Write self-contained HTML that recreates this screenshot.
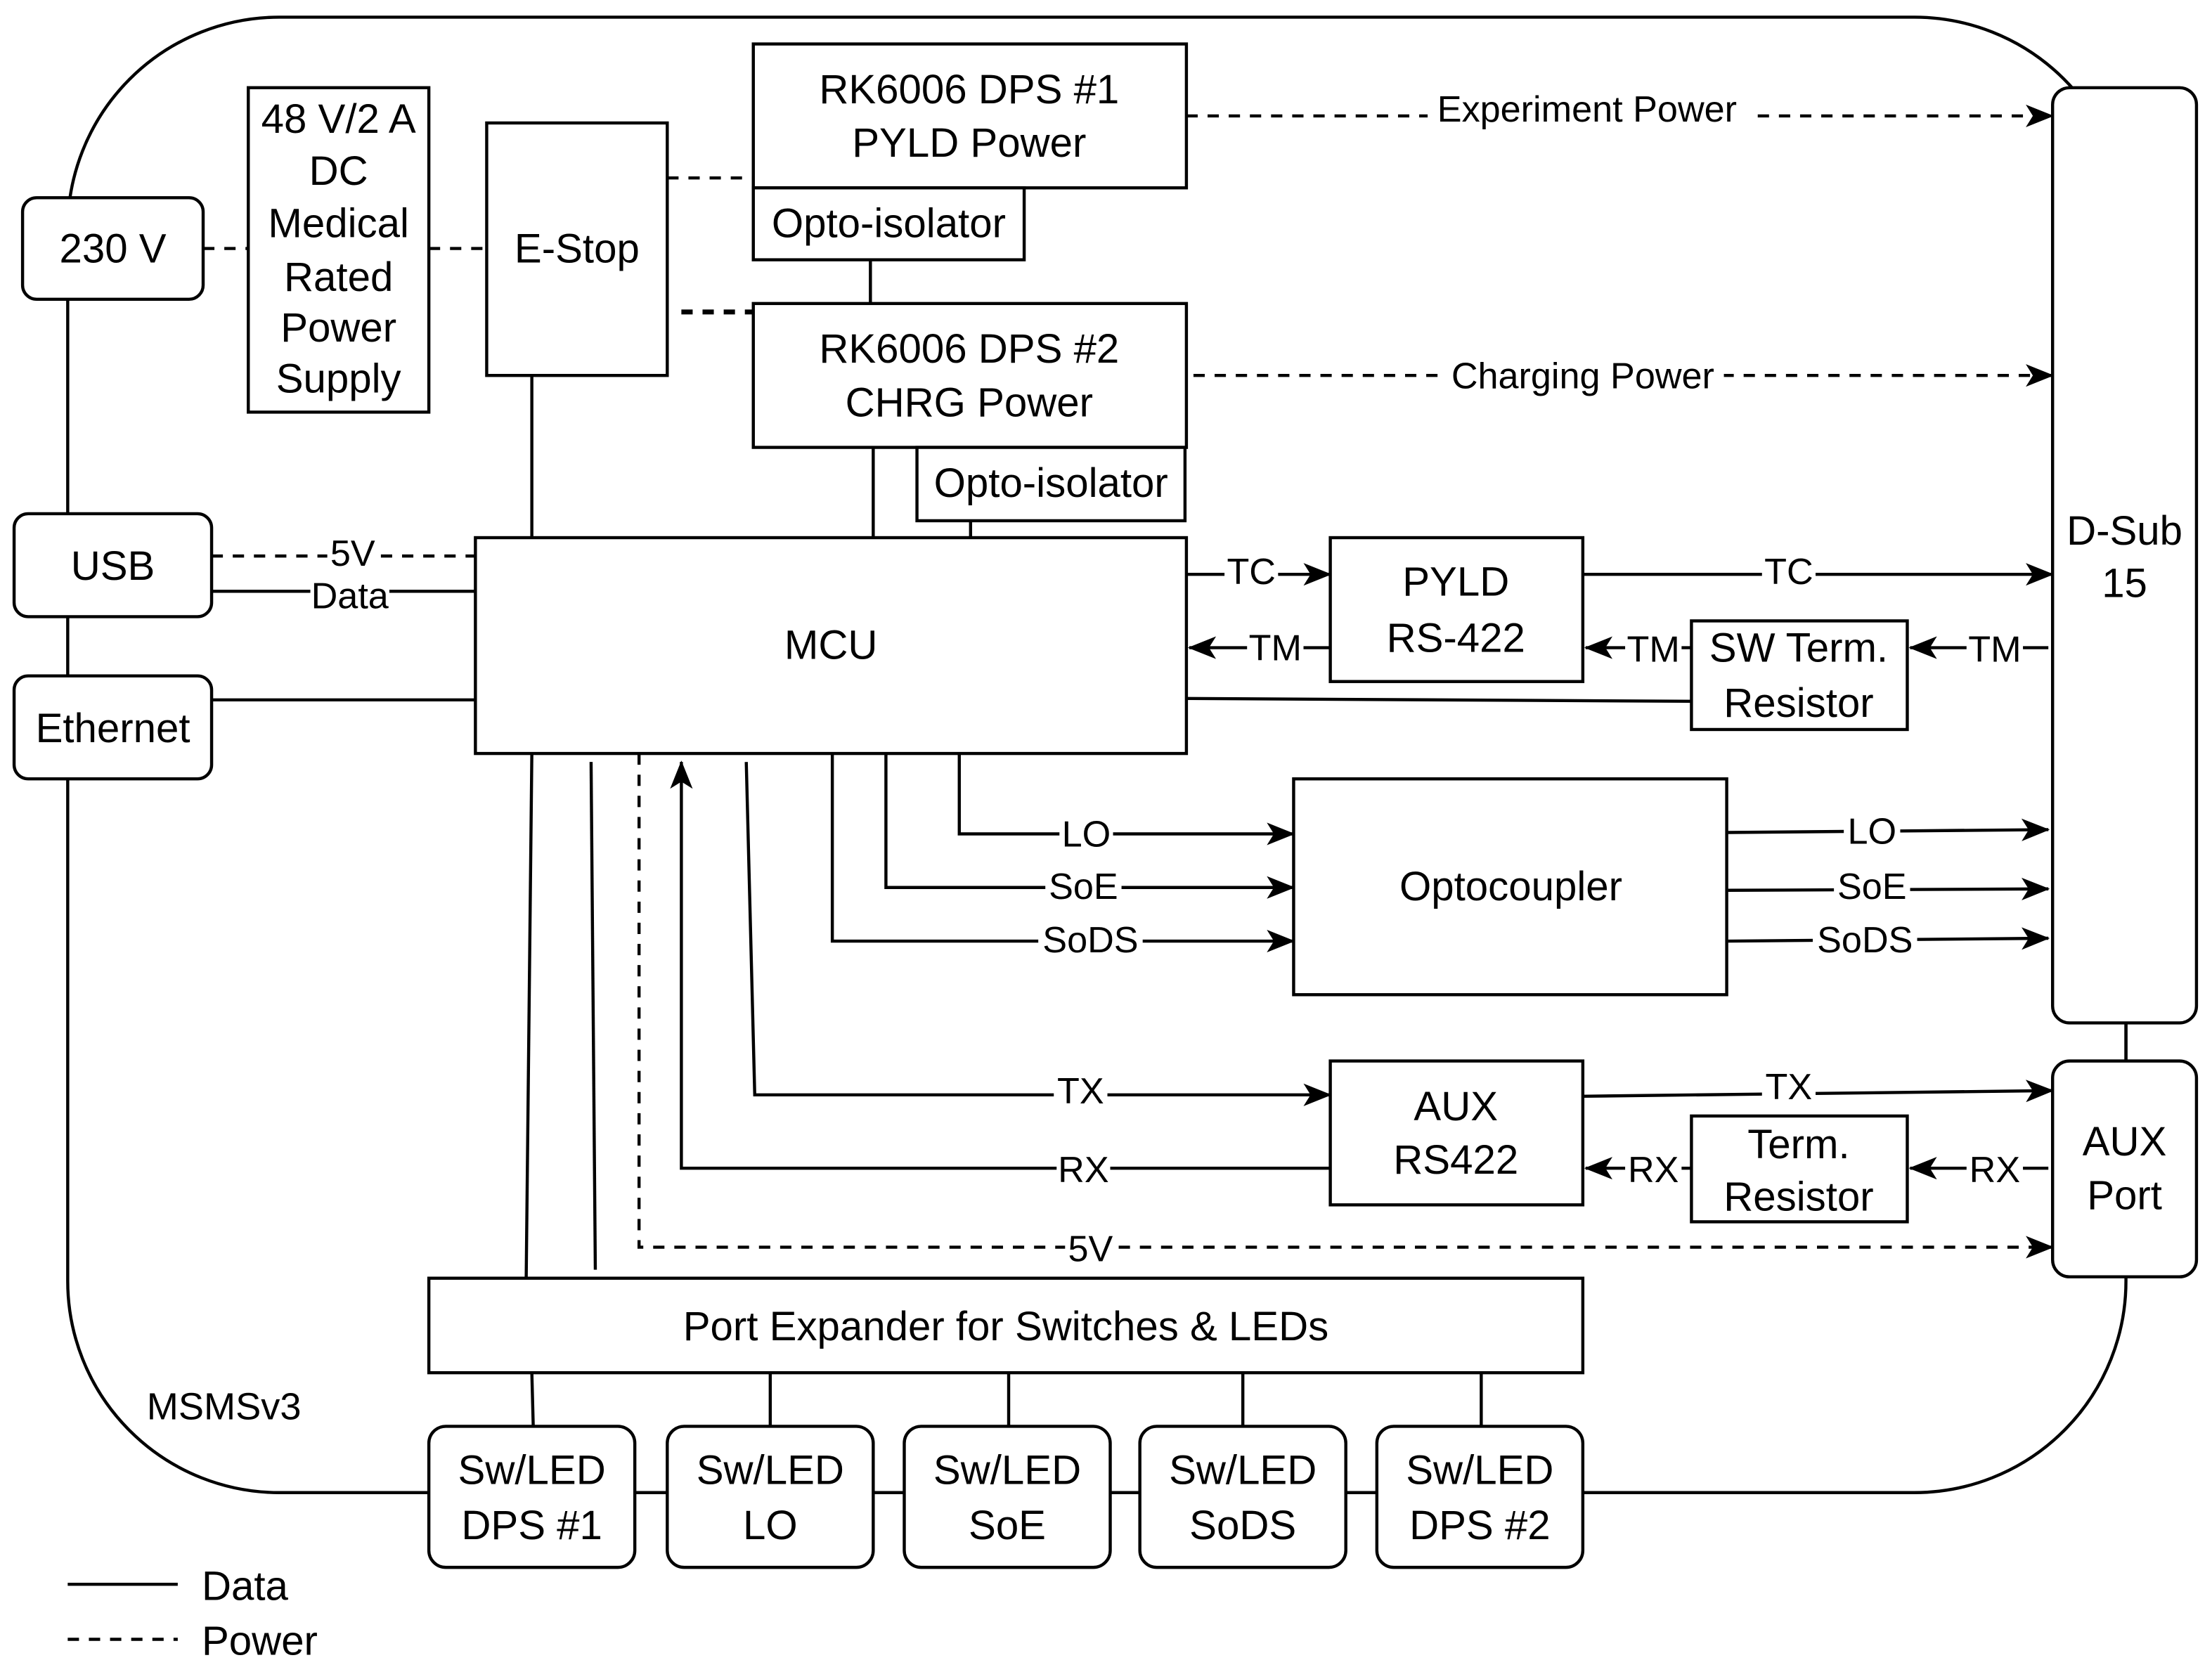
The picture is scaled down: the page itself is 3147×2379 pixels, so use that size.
<!DOCTYPE html>
<html><head><meta charset="utf-8"><style>
html,body{margin:0;padding:0;background:#fff;}
svg{display:block;}
text{font-family:"Liberation Sans",Arial,sans-serif;fill:#000;}
.b{font-size:29px;text-anchor:middle;}
.l{font-size:26px;text-anchor:middle;}
</style></head><body>
<svg width="3147" height="2379" viewBox="0 0 1568 1185" xmlns="http://www.w3.org/2000/svg">
<defs>
<marker id="a" viewBox="0 0 20 16" refX="19" refY="8" markerWidth="20" markerHeight="16" markerUnits="userSpaceOnUse" orient="auto">
<path d="M0,0 L20,8 L0,16 L5,8 Z" fill="#000"/></marker>
</defs>
<g fill="none" stroke="#000" stroke-width="2.2">
<rect x="48" y="12" width="1459" height="1046" rx="150" ry="150"/>
</g>
<g fill="none" stroke="#000" stroke-width="2.2">
<line x1="377" y1="266" x2="377" y2="381"/>
<line x1="617" y1="184" x2="617" y2="215"/>
<line x1="619" y1="317" x2="619" y2="381"/>
<line x1="688" y1="369" x2="688" y2="381"/>
<line x1="150" y1="419" x2="337" y2="419"/>
<line x1="150" y1="496" x2="337" y2="496"/>
<line x1="841" y1="407" x2="943" y2="407" marker-end="url(#a)"/>
<line x1="1122" y1="407" x2="1455" y2="407" marker-end="url(#a)"/>
<line x1="943" y1="459" x2="843" y2="459" marker-end="url(#a)"/>
<line x1="1199" y1="459" x2="1124" y2="459" marker-end="url(#a)"/>
<line x1="1452" y1="459" x2="1354" y2="459" marker-end="url(#a)"/>
<line x1="841" y1="495" x2="1199" y2="497"/>
<polyline points="680,534 680,591 917,591" marker-end="url(#a)"/>
<polyline points="628,534 628,629 917,629" marker-end="url(#a)"/>
<polyline points="590,534 590,667 917,667" marker-end="url(#a)"/>
<line x1="1225" y1="590" x2="1452" y2="588" marker-end="url(#a)"/>
<line x1="1225" y1="631" x2="1452" y2="630" marker-end="url(#a)"/>
<line x1="1225" y1="667" x2="1452" y2="665" marker-end="url(#a)"/>
<polyline points="529,540 535,776 943,776" marker-end="url(#a)"/>
<polyline points="943,828 483,828 483,540" marker-end="url(#a)"/>
<line x1="1122" y1="777" x2="1455" y2="773" marker-end="url(#a)"/>
<line x1="1199" y1="828" x2="1124" y2="828" marker-end="url(#a)"/>
<line x1="1452" y1="828" x2="1354" y2="828" marker-end="url(#a)"/>
<line x1="377" y1="534" x2="373" y2="906"/>
<line x1="419" y1="540" x2="422" y2="900"/>
<line x1="1507" y1="725" x2="1507" y2="752"/>
<line x1="377" y1="973" x2="378" y2="1011"/>
<line x1="546" y1="973" x2="546" y2="1011"/>
<line x1="715" y1="973" x2="715" y2="1011"/>
<line x1="881" y1="973" x2="881" y2="1011"/>
<line x1="1050" y1="973" x2="1050" y2="1011"/>
<line x1="48" y1="1123" x2="126" y2="1123"/>
</g>
<g fill="none" stroke="#000" stroke-width="2.2" stroke-dasharray="8,7">
<line x1="144" y1="176" x2="176" y2="176"/>
<line x1="304" y1="176" x2="345" y2="176"/>
<line x1="473" y1="126" x2="534" y2="126"/>
<line x1="483" y1="221" x2="534" y2="221" stroke-width="3.5"/>
<line x1="150" y1="394" x2="337" y2="394"/>
<line x1="841" y1="82" x2="1455" y2="82" marker-end="url(#a)"/>
<line x1="846" y1="266" x2="1455" y2="266" marker-end="url(#a)"/>
<polyline points="453,534 453,884 1455,884" marker-end="url(#a)"/>
<line x1="48" y1="1162" x2="126" y2="1162"/>
</g>
<g fill="#fff" stroke="#000" stroke-width="2.2">
<rect x="16" y="140" width="128" height="72" rx="10"/>
<rect x="176" y="62" width="128" height="230"/>
<rect x="345" y="87" width="128" height="179"/>
<rect x="534" y="31" width="307" height="102"/>
<rect x="534" y="133" width="192" height="51"/>
<rect x="534" y="215" width="307" height="102"/>
<rect x="650" y="317" width="190" height="52"/>
<rect x="10" y="364" width="140" height="73" rx="10"/>
<rect x="10" y="479" width="140" height="73" rx="10"/>
<rect x="337" y="381" width="504" height="153"/>
<rect x="943" y="381" width="179" height="102"/>
<rect x="1199" y="440" width="153" height="77"/>
<rect x="1455" y="62" width="102" height="663" rx="12"/>
<rect x="917" y="552" width="307" height="153"/>
<rect x="943" y="752" width="179" height="102"/>
<rect x="1199" y="791" width="153" height="75"/>
<rect x="1455" y="752" width="102" height="153" rx="12"/>
<rect x="304" y="906" width="818" height="67"/>
<rect x="304" y="1011" width="146" height="100" rx="12"/>
<rect x="473" y="1011" width="146" height="100" rx="12"/>
<rect x="641" y="1011" width="146" height="100" rx="12"/>
<rect x="808" y="1011" width="146" height="100" rx="12"/>
<rect x="976" y="1011" width="146" height="100" rx="12"/>
</g>
<!-- label backgrounds -->
<g fill="#fff" stroke="none">
<rect x="232" y="381" width="36" height="24"/>
<rect x="220" y="410" width="56" height="24"/>
<rect x="1012" y="66" width="228" height="26"/>
<rect x="1022" y="254" width="200" height="26"/>
<rect x="868" y="394" width="38" height="24"/>
<rect x="1249" y="394" width="38" height="24"/>
<rect x="884" y="448" width="40" height="24"/>
<rect x="1152" y="448" width="40" height="24"/>
<rect x="1394" y="448" width="40" height="24"/>
<rect x="751" y="578" width="38" height="26"/>
<rect x="741" y="615" width="54" height="26"/>
<rect x="736" y="653" width="74" height="26"/>
<rect x="1307" y="576" width="40" height="26"/>
<rect x="1300" y="615" width="54" height="26"/>
<rect x="1285" y="652" width="74" height="26"/>
<rect x="747" y="762" width="38" height="26"/>
<rect x="749" y="815" width="38" height="26"/>
<rect x="1249" y="758" width="38" height="26"/>
<rect x="1152" y="815" width="40" height="26"/>
<rect x="1394" y="815" width="40" height="26"/>
<rect x="755" y="871" width="36" height="26"/>
</g>
<g>
<text class="b" x="80" y="186">230 V</text>
<text class="b" x="240" y="94">48 V/2 A</text>
<text class="b" x="240" y="131">DC</text>
<text class="b" x="240" y="168">Medical</text>
<text class="b" x="240" y="206">Rated</text>
<text class="b" x="240" y="242">Power</text>
<text class="b" x="240" y="278">Supply</text>
<text class="b" x="409" y="186">E-Stop</text>
<text class="b" x="687" y="73">RK6006 DPS #1</text>
<text class="b" x="687" y="111">PYLD Power</text>
<text class="b" x="630" y="168">Opto-isolator</text>
<text class="b" x="687" y="257">RK6006 DPS #2</text>
<text class="b" x="687" y="295">CHRG Power</text>
<text class="b" x="745" y="352">Opto-isolator</text>
<text class="b" x="80" y="411">USB</text>
<text class="b" x="80" y="526">Ethernet</text>
<text class="b" x="589" y="467">MCU</text>
<text class="b" x="1032" y="422">PYLD</text>
<text class="b" x="1032" y="462">RS-422</text>
<text class="b" x="1275" y="469">SW Term.</text>
<text class="b" x="1275" y="508">Resistor</text>
<text class="b" x="1506" y="386">D-Sub</text>
<text class="b" x="1506" y="423">15</text>
<text class="b" x="1071" y="638">Optocoupler</text>
<text class="b" x="1032" y="794">AUX</text>
<text class="b" x="1032" y="832">RS422</text>
<text class="b" x="1275" y="821">Term.</text>
<text class="b" x="1275" y="858">Resistor</text>
<text class="b" x="1506" y="819">AUX</text>
<text class="b" x="1506" y="857">Port</text>
<text class="b" x="713" y="950">Port Expander for Switches &amp; LEDs</text>
<text class="b" x="377" y="1052">Sw/LED</text><text class="b" x="377" y="1091">DPS #1</text>
<text class="b" x="546" y="1052">Sw/LED</text><text class="b" x="546" y="1091">LO</text>
<text class="b" x="714" y="1052">Sw/LED</text><text class="b" x="714" y="1091">SoE</text>
<text class="b" x="881" y="1052">Sw/LED</text><text class="b" x="881" y="1091">SoDS</text>
<text class="b" x="1049" y="1052">Sw/LED</text><text class="b" x="1049" y="1091">DPS #2</text>
<text x="104" y="1006" style="font-size:27px;text-anchor:start">MSMSv3</text>
<text x="143" y="1134" style="font-size:29px;text-anchor:start">Data</text>
<text x="143" y="1173" style="font-size:29px;text-anchor:start">Power</text>
</g>
<text class="l" x="250" y="401">5V</text>
<text class="l" x="248" y="431">Data</text>
<text class="l" x="1125" y="86">Experiment Power</text>
<text class="l" x="1122" y="275">Charging Power</text>
<text class="l" x="887" y="414">TC</text>
<text class="l" x="1268" y="414">TC</text>
<text class="l" x="904" y="468">TM</text>
<text class="l" x="1172" y="469">TM</text>
<text class="l" x="1414" y="469">TM</text>
<text class="l" x="770" y="600">LO</text>
<text class="l" x="768" y="637">SoE</text>
<text class="l" x="773" y="675">SoDS</text>
<text class="l" x="1327" y="598">LO</text>
<text class="l" x="1327" y="637">SoE</text>
<text class="l" x="1322" y="675">SoDS</text>
<text class="l" x="766" y="782">TX</text>
<text class="l" x="768" y="838">RX</text>
<text class="l" x="1268" y="779">TX</text>
<text class="l" x="1172" y="838">RX</text>
<text class="l" x="1414" y="838">RX</text>
<text class="l" x="773" y="894">5V</text>
</svg>
</body></html>
